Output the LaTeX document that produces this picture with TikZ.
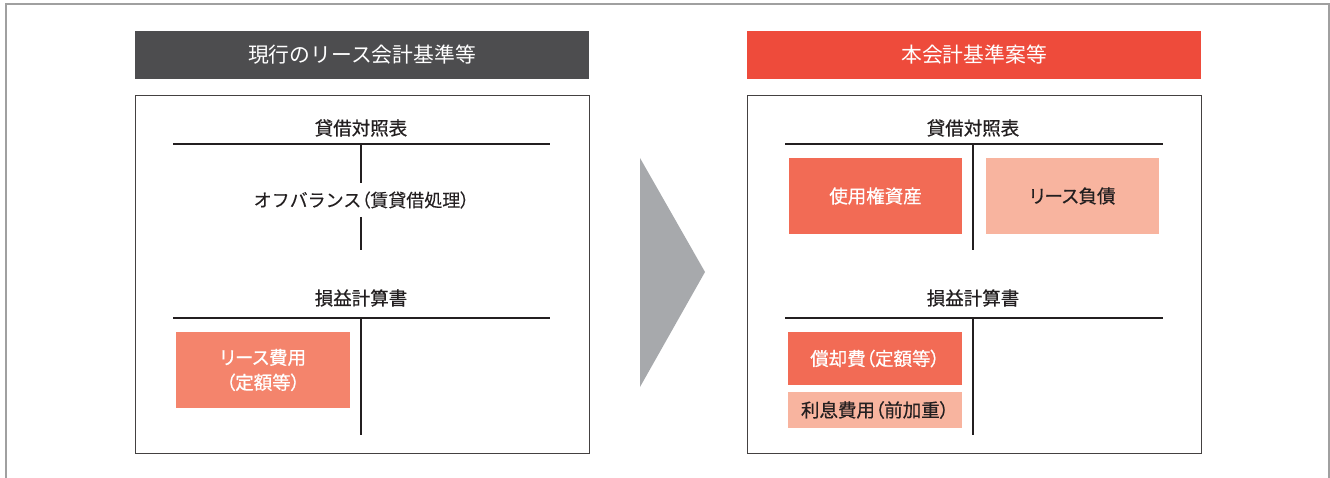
\documentclass[tikz,border=0pt]{standalone}
\usepackage{fontspec}
\setmainfont{Noto Sans CJK JP}
\newfontfamily\medfont[FakeBold=0.6]{Noto Sans CJK JP}
\newfontfamily\medpalt[FakeBold=0.6,RawFeature=+palt]{Noto Sans CJK JP}
\newfontfamily\regpalt[FakeBold=0.2,RawFeature=+palt]{Noto Sans CJK JP}
\newfontfamily\reglite[FakeBold=0.2]{Noto Sans CJK JP}
\definecolor{hdrgray}{HTML}{4D4D4F}
\definecolor{hdrred}{HTML}{EE4B3B}
\definecolor{salmon}{HTML}{F4846C}
\definecolor{deepsal}{HTML}{F26B55}
\definecolor{lightsal}{HTML}{F8B49F}
\definecolor{ink}{HTML}{231F20}
\definecolor{arrowgray}{HTML}{A7A9AC}
\definecolor{framegray}{HTML}{A0A0A0}
\tikzset{
  header/.style={draw=none, text=white, font=\fontsize{20.8}{24}\selectfont, inner sep=0pt},
  panel/.style={draw=ink!85, line width=0.8pt, fill=none, inner sep=0pt},
  title/.style={text=ink, font=\medfont\fontsize{18.5}{22}\selectfont, inner sep=0pt},
  tline/.style={draw=ink, line width=1.6pt},
  vline/.style={draw=ink, line width=1.1pt},
  itembox/.style={inner sep=0pt, align=center, font=\medpalt\fontsize{18.5}{25}\selectfont},
}
\begin{document}
\begin{tikzpicture}[x=1pt,y=-1pt]
\useasboundingbox (0,0) rectangle (1330,478);
% outer frame
\draw[framegray, line width=1.3pt] (6,478) -- (6,4) -- (1329,4) -- (1329,478);

% ---------- left side ----------
\node[header, fill=hdrgray, minimum width=454pt, minimum height=48pt] (lhead) at (362,55) {現行のリース会計基準等};
\node[panel, minimum width=454pt, minimum height=358pt] (lpanel) at (362,274) {};
\node[title] (lbs) at (361,128) {貸借対照表};
\draw[tline] (173,144) -- (550,144);
\node[title, font=\reglite\fontsize{18}{20}\selectfont] (offbal) at (361.5,200) {オフバランス{\regpalt（}賃貸借処理{\regpalt）}};
\draw[vline] (361,144) -- (361,183);
\draw[vline] (361,217) -- (361,250);
\node[title] (lpl) at (361,298) {損益計算書};
\draw[tline] (173,318) -- (550,318);
\draw[vline] (361,318) -- (361,435);
\node[itembox, fill=salmon, text=white, minimum width=174pt, minimum height=76pt] (lexp) at (263,370) {リース費用\\（定額等）};

% ---------- arrow ----------
\fill[arrowgray] (640,158) -- (705,272) -- (640,387) -- cycle;

% ---------- right side ----------
\node[header, fill=hdrred, minimum width=454pt, minimum height=48pt] (rhead) at (974,55) {本会計基準案等};
\node[panel, minimum width=454pt, minimum height=358pt] (rpanel) at (974,274) {};
\node[title] (rbs) at (973,128) {貸借対照表};
\draw[tline] (785,144) -- (1163,144);
\draw[vline] (973,144) -- (973,250);
\node[itembox, fill=deepsal, text=white, minimum width=173pt, minimum height=76pt] (rou) at (875.5,196) {使用権資産};
\node[itembox, fill=lightsal, text=ink, minimum width=173pt, minimum height=76pt] (liab) at (1072.5,196) {リース負債};
\node[title] (rpl) at (973,298) {損益計算書};
\draw[tline] (785,318) -- (1163,318);
\draw[vline] (973,318) -- (973,435);
\node[itembox, fill=deepsal, text=white, minimum width=174pt, minimum height=53pt] (dep) at (875,358.5) {償却費（定額等）};
\node[itembox, fill=lightsal, text=ink, minimum width=174pt, minimum height=36pt] (int) at (875,410) {利息費用（前加重）};
\end{tikzpicture}
\end{document}
